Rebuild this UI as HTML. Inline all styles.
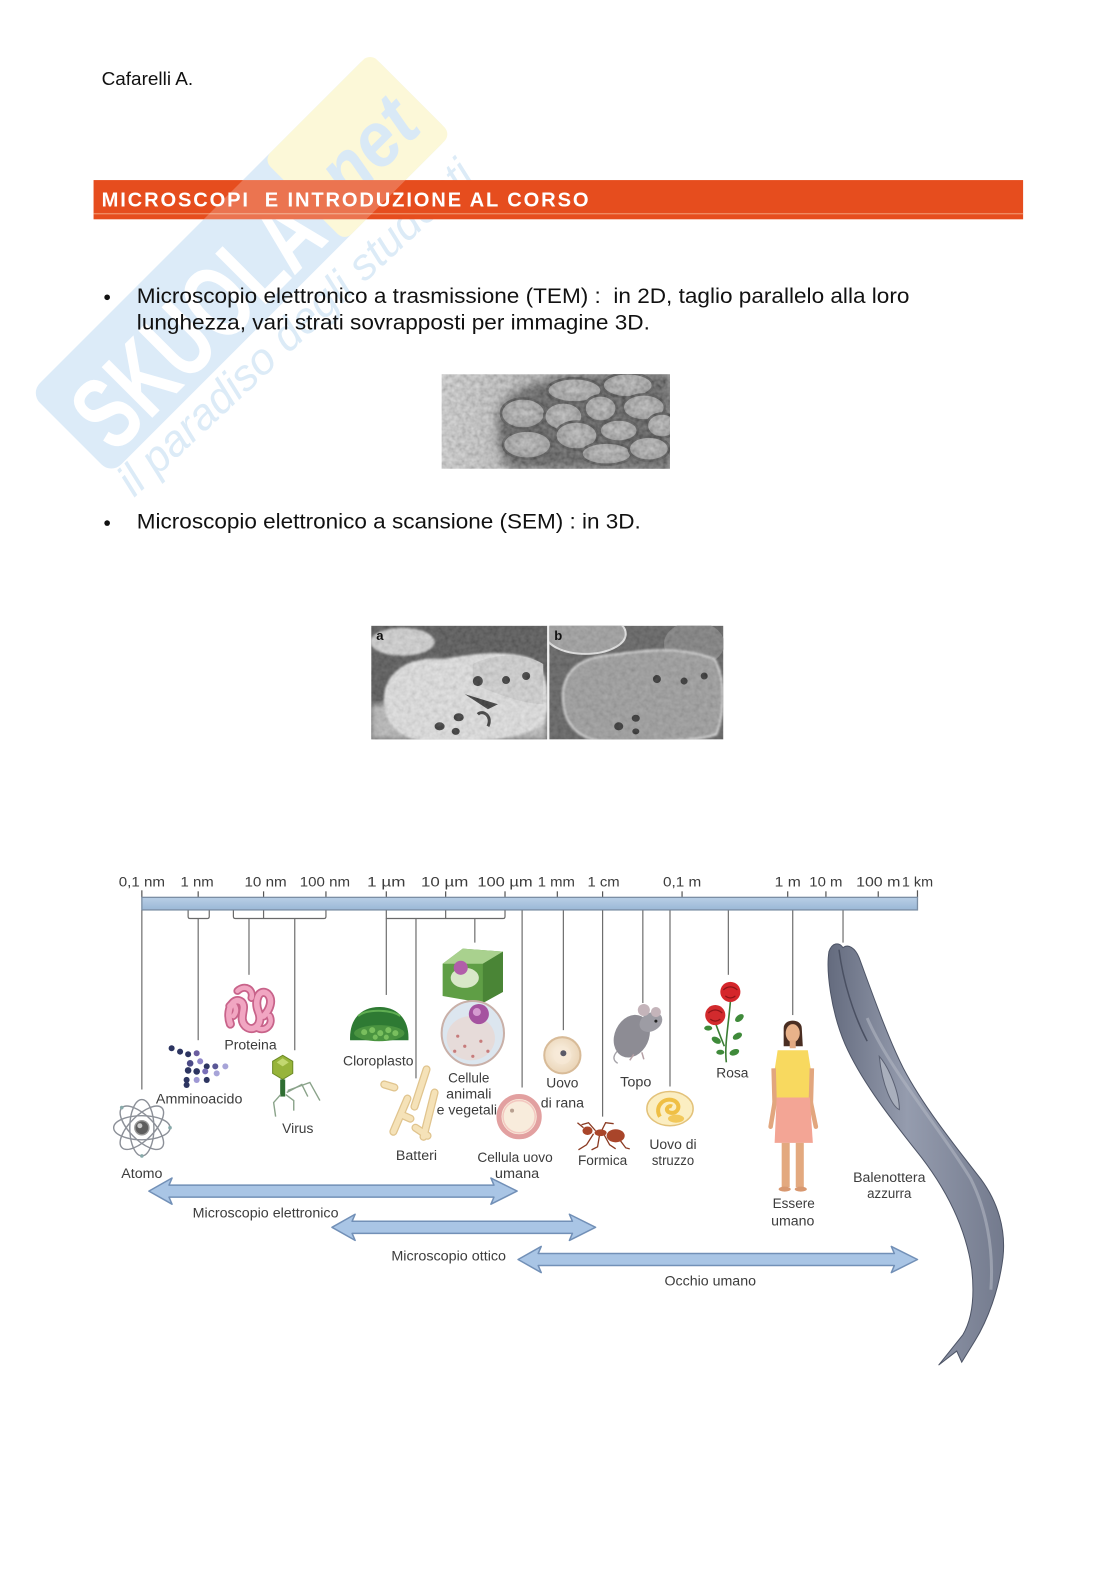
<!DOCTYPE html>
<html><head><meta charset="utf-8">
<style>
html,body{margin:0;padding:0;background:#fff;}
svg{display:block;}
text{font-family:"Liberation Sans",Arial,sans-serif;}
.lb{font-size:14px;fill:#3c3c3c;}
</style></head>
<body>
<svg width="1116" height="1578" viewBox="0 0 1116 1578" xmlns="http://www.w3.org/2000/svg">
<defs>
  <filter id="grain" x="0" y="0" width="100%" height="100%">
    <feTurbulence type="fractalNoise" baseFrequency="0.22" numOctaves="2" seed="4"/>
    <feColorMatrix type="saturate" values="0"/>
    <feComponentTransfer><feFuncA type="linear" slope="0" intercept="0.45"/></feComponentTransfer>
  </filter>
  <filter id="b1"><feGaussianBlur stdDeviation="1"/></filter>
  <filter id="b3"><feGaussianBlur stdDeviation="3"/></filter>
  <filter id="b5"><feGaussianBlur stdDeviation="5"/></filter>
  <linearGradient id="temg" x1="0" y1="0" x2="1" y2="0">
    <stop offset="0" stop-color="#d0d0d0"/><stop offset="0.35" stop-color="#b2b2b2"/><stop offset="1" stop-color="#7e7e7e"/>
  </linearGradient>
  <radialGradient id="oval" cx="0.5" cy="0.45" r="0.6">
    <stop offset="0" stop-color="#b4b4b4"/><stop offset="0.75" stop-color="#8e8e8e"/><stop offset="1" stop-color="#505050"/>
  </radialGradient>
  <linearGradient id="whaleg" x1="0" y1="0" x2="1" y2="0">
    <stop offset="0" stop-color="#646b7e"/><stop offset="0.45" stop-color="#959cae"/><stop offset="1" stop-color="#737a8d"/>
  </linearGradient>
  <linearGradient id="barg" x1="0" y1="0" x2="0" y2="1">
    <stop offset="0" stop-color="#b9cfe6"/><stop offset="1" stop-color="#9ab7d6"/>
  </linearGradient>
  <radialGradient id="egg" cx="0.45" cy="0.45" r="0.6">
    <stop offset="0" stop-color="#fbf3e6"/><stop offset="1" stop-color="#e9d2b3"/>
  </radialGradient>
  <clipPath id="temc"><rect x="439" y="372" width="227" height="94"/></clipPath>
  <clipPath id="semA"><rect x="369" y="622" width="175" height="113"/></clipPath>
  <clipPath id="semB"><rect x="546" y="622" width="173" height="113"/></clipPath>
  <clipPath id="barclip"><rect x="93.5" y="180" width="930" height="39.5"/></clipPath>
</defs>
<rect width="1116" height="1578" fill="#fff"/>

<!-- watermark -->
<g transform="translate(30,393) rotate(-45)">
  <rect x="0" y="0" width="481" height="115" rx="14" fill="#dcebf8"/>
  <rect x="330" y="0" width="151" height="115" rx="10" fill="#fcf8d8"/>
  <text x="16" y="104" font-size="104" font-weight="bold" fill="#ffffff" textLength="305" lengthAdjust="spacingAndGlyphs">SKUOLA</text>
  <text x="340" y="92" font-size="78" font-weight="bold" font-style="italic" fill="#d9e9f6" textLength="125" lengthAdjust="spacingAndGlyphs">.net</text>
</g>
<g transform="translate(134,498) rotate(-43)">
  <text x="0" y="0" font-family="Liberation Serif" font-style="italic" font-size="44" fill="#dcebf7" textLength="468" lengthAdjust="spacingAndGlyphs">il paradiso degli studenti</text>
</g>

<g transform="scale(1.006)">
<!-- header -->
<text x="101" y="84.5" font-size="18" fill="#111" textLength="91" lengthAdjust="spacingAndGlyphs">Cafarelli A.</text>
<rect x="93" y="179" width="924" height="39" fill="#e64d1e"/>
<rect x="93" y="212" width="924" height="1" fill="#f3a27a"/>
</g>
<!-- watermark overlay on bar -->
<g clip-path="url(#barclip)" opacity="0.22">
  <g transform="translate(30,393) rotate(-45)">
    <rect x="0" y="0" width="481" height="115" rx="14" fill="#ffffff"/>
  </g>
</g>
<g transform="scale(1.006)">
<text x="101" y="205.5" font-size="20" font-weight="bold" fill="#fff" textLength="484" lengthAdjust="spacing">MICROSCOPI&#160; E INTRODUZIONE AL CORSO</text>

<!-- bullets -->
<circle cx="106.5" cy="295.5" r="2.8" fill="#111"/>
<text x="136" y="301" font-size="21" fill="#111" textLength="768" lengthAdjust="spacingAndGlyphs">Microscopio elettronico a trasmissione (TEM) :&#160; in 2D, taglio parallelo alla loro</text>
<text x="136" y="327.5" font-size="21" fill="#111" textLength="510" lengthAdjust="spacingAndGlyphs">lunghezza, vari strati sovrapposti per immagine 3D.</text>
<circle cx="106.5" cy="520" r="2.8" fill="#111"/>
<text x="136" y="525.5" font-size="21" fill="#111" textLength="501" lengthAdjust="spacingAndGlyphs">Microscopio elettronico a scansione (SEM) : in 3D.</text>

<!-- TEM image -->
<g clip-path="url(#temc)">
  <rect x="439" y="372" width="227" height="94" fill="url(#temg)"/>
  <path d="M500,400 C520,380 560,372 600,372 L666,372 L666,466 L505,466 C495,450 490,420 500,400 Z" fill="#2e2e2e" filter="url(#b5)"/>
  <g stroke="#1e1e1e" stroke-width="2.5" fill="url(#oval)">
    <ellipse cx="571" cy="388" rx="27" ry="12"/>
    <ellipse cx="624" cy="383" rx="25" ry="12"/>
    <ellipse cx="520" cy="411" rx="22" ry="15"/>
    <ellipse cx="560" cy="414" rx="19" ry="14"/>
    <ellipse cx="597" cy="406" rx="16" ry="13"/>
    <ellipse cx="640" cy="405" rx="21" ry="13"/>
    <ellipse cx="524" cy="442" rx="24" ry="14"/>
    <ellipse cx="573" cy="433" rx="21" ry="14"/>
    <ellipse cx="615" cy="428" rx="19" ry="11"/>
    <ellipse cx="658" cy="423" rx="15" ry="12"/>
    <ellipse cx="603" cy="451" rx="25" ry="11"/>
    <ellipse cx="645" cy="446" rx="20" ry="12"/>
  </g>
  <rect x="439" y="372" width="227" height="94" filter="url(#grain)"/>
</g>

<!-- SEM image -->
<g clip-path="url(#semA)">
  <rect x="369" y="622" width="175" height="113" fill="#444"/>
  <ellipse cx="400" cy="638" rx="32" ry="14" fill="#cfcfcf" filter="url(#b1)"/>
  <rect x="369" y="700" width="175" height="35" fill="#b5b5b5" filter="url(#b3)"/>
  <path d="M382,690 C385,665 410,652 440,655 C470,650 500,645 530,655 C545,665 548,700 540,720 C520,735 470,738 430,737 C400,737 378,720 382,690 Z" fill="#e2e2e2" filter="url(#b1)"/>
  <path d="M470,660 C490,650 520,648 540,660 L540,700 C520,700 495,690 470,680 Z" fill="#cfcfcf"/>
  <g fill="#222">
    <ellipse cx="437" cy="722" rx="5" ry="4"/><ellipse cx="456" cy="713" rx="5" ry="4"/><ellipse cx="453" cy="727" rx="4" ry="3.5"/>
    <ellipse cx="475" cy="677" rx="5" ry="5"/><ellipse cx="503" cy="676" rx="4" ry="4"/><ellipse cx="523" cy="672" rx="4" ry="4"/>
    <path d="M462,690 L495,700 L485,705 Z"/><path d="M475,710 C480,705 490,712 485,722" stroke="#222" stroke-width="3" fill="none"/>
  </g>
  <rect x="369" y="622" width="175" height="113" filter="url(#grain)" opacity="0.6"/>
  <text x="374" y="636" font-size="13" font-weight="bold" fill="#111">a</text>
</g>
<rect x="544" y="622" width="2" height="113" fill="#f0f0f0"/>
<g clip-path="url(#semB)">
  <rect x="546" y="622" width="173" height="113" fill="#555"/>
  <ellipse cx="582" cy="630" rx="40" ry="20" fill="#9a9a9a" stroke="#e6e6e6" stroke-width="2"/>
  <ellipse cx="690" cy="640" rx="30" ry="22" fill="#777"/>
  <path d="M560,700 C556,670 575,655 600,652 C630,648 670,640 710,655 C722,675 720,710 712,730 C690,738 640,738 600,737 C575,735 562,720 560,700 Z" fill="#979797" stroke="#d8d8d8" stroke-width="2" filter="url(#b1)"/>
  <g fill="#222">
    <ellipse cx="615" cy="722" rx="4.5" ry="4"/><ellipse cx="632" cy="714" rx="4" ry="3.5"/><ellipse cx="632" cy="727" rx="3.5" ry="3"/>
    <ellipse cx="653" cy="675" rx="4" ry="4"/><ellipse cx="680" cy="677" rx="3.5" ry="3.5"/><ellipse cx="700" cy="672" rx="3.5" ry="3.5"/>
  </g>
  <rect x="546" y="622" width="173" height="113" filter="url(#grain)" opacity="0.5"/>
  <text x="551" y="636" font-size="13" font-weight="bold" fill="#111">b</text>
</g>

<!-- ===== scale diagram ===== -->
<g class="lb">
  <text x="141" y="881" text-anchor="middle" textLength="46" lengthAdjust="spacingAndGlyphs">0,1 nm</text>
  <text x="196" y="881" text-anchor="middle" textLength="33" lengthAdjust="spacingAndGlyphs">1 nm</text>
  <text x="264" y="881" text-anchor="middle" textLength="42" lengthAdjust="spacingAndGlyphs">10 nm</text>
  <text x="323" y="881" text-anchor="middle" textLength="50" lengthAdjust="spacingAndGlyphs">100 nm</text>
  <text x="384" y="881" text-anchor="middle" textLength="38" lengthAdjust="spacingAndGlyphs">1 µm</text>
  <text x="442" y="881" text-anchor="middle" textLength="47" lengthAdjust="spacingAndGlyphs">10 µm</text>
  <text x="502" y="881" text-anchor="middle" textLength="55" lengthAdjust="spacingAndGlyphs">100 µm</text>
  <text x="553" y="881" text-anchor="middle" textLength="37" lengthAdjust="spacingAndGlyphs">1 mm</text>
  <text x="600" y="881" text-anchor="middle" textLength="32" lengthAdjust="spacingAndGlyphs">1 cm</text>
  <text x="678" y="881" text-anchor="middle" textLength="38" lengthAdjust="spacingAndGlyphs">0,1 m</text>
  <text x="783" y="881" text-anchor="middle" textLength="26" lengthAdjust="spacingAndGlyphs">1 m</text>
  <text x="821" y="881" text-anchor="middle" textLength="33" lengthAdjust="spacingAndGlyphs">10 m</text>
  <text x="873" y="881" text-anchor="middle" textLength="44" lengthAdjust="spacingAndGlyphs">100 m</text>
  <text x="912" y="881" text-anchor="middle" textLength="31" lengthAdjust="spacingAndGlyphs">1 km</text>
</g>
<!-- ticks -->
<g stroke="#555" stroke-width="1.2">
  <line x1="141" y1="885" x2="141" y2="892"/><line x1="197" y1="886" x2="197" y2="892"/><line x1="262" y1="886" x2="262" y2="892"/>
  <line x1="324" y1="886" x2="324" y2="892"/><line x1="384" y1="886" x2="384" y2="892"/><line x1="443" y1="886" x2="443" y2="892"/>
  <line x1="502" y1="886" x2="502" y2="892"/><line x1="554" y1="886" x2="554" y2="892"/><line x1="599" y1="886" x2="599" y2="892"/>
  <line x1="678" y1="886" x2="678" y2="892"/><line x1="783" y1="886" x2="783" y2="892"/><line x1="821" y1="886" x2="821" y2="892"/>
  <line x1="873" y1="886" x2="873" y2="892"/><line x1="912" y1="885" x2="912" y2="892"/>
</g>
<rect x="141" y="892" width="771" height="12.5" fill="url(#barg)" stroke="#7b8ea4" stroke-width="1.3"/>
<!-- brackets -->
<g stroke="#6a6a6a" stroke-width="1.2" fill="none">
  <path d="M187,905 V911 Q187,913 189,913 H206 Q208,913 208,911 V905"/>
  <path d="M232,905 V911 Q232,913 234,913 H322 Q324,913 324,911 V905"/>
  <line x1="262" y1="905" x2="262" y2="913"/>
  <path d="M384,905 V913 H500 Q502,913 502,911 V905"/>
  <line x1="443" y1="905" x2="443" y2="913"/>
</g>
<!-- connector lines -->
<g stroke="#6e6e6e" stroke-width="1.2">
  <line x1="141" y1="905" x2="141" y2="1083"/>
  <line x1="197" y1="913" x2="197" y2="1034"/>
  <line x1="247.5" y1="913" x2="247.5" y2="969"/>
  <line x1="293" y1="913" x2="293" y2="1044"/>
  <line x1="384" y1="913" x2="384" y2="989"/>
  <line x1="413.5" y1="913" x2="413.5" y2="1072"/>
  <line x1="472" y1="913" x2="472" y2="937"/>
  <line x1="519" y1="905" x2="519" y2="1081"/>
  <line x1="560" y1="905" x2="560" y2="1024"/>
  <line x1="599" y1="905" x2="599" y2="1110"/>
  <line x1="639" y1="905" x2="639" y2="997"/>
  <line x1="666" y1="905" x2="666" y2="1080"/>
  <line x1="724" y1="905" x2="724" y2="969"/>
  <line x1="788" y1="905" x2="788" y2="1009"/>
  <line x1="838" y1="905" x2="838" y2="937"/>
</g>

<!-- Atom -->
<g transform="translate(141,1121)" fill="none" stroke="#8c9098" stroke-width="1.4">
  <ellipse rx="28" ry="12"/>
  <ellipse rx="28" ry="12" transform="rotate(45)"/>
  <ellipse rx="28" ry="12" transform="rotate(90)"/>
  <ellipse rx="28" ry="12" transform="rotate(135)"/>
  <circle r="7" fill="#5e5e5e" stroke="#999"/>
  <circle r="2.5" cx="-2" cy="-2" fill="#ccc" stroke="none"/>
  <circle cx="28" cy="0" r="1.8" fill="#8aa" stroke="none"/><circle cx="-20" cy="-20" r="1.8" fill="#8aa" stroke="none"/><circle cx="0" cy="28" r="1.8" fill="#8aa" stroke="none"/>
</g>
<!-- Amminoacido -->
<g>
  <circle cx="170.6" cy="1042" r="3" fill="#2d3561"/><circle cx="179" cy="1045.4" r="3" fill="#2d3561"/>
  <circle cx="187" cy="1048" r="3" fill="#2d3561"/><circle cx="195.5" cy="1047" r="3" fill="#6b5ea0"/>
  <circle cx="189" cy="1057" r="3.3" fill="#4b4a86"/><circle cx="199" cy="1055" r="3" fill="#8f86c8"/>
  <circle cx="205.5" cy="1060" r="3" fill="#2d3561"/><circle cx="187" cy="1064" r="3.3" fill="#2d3561"/>
  <circle cx="195.5" cy="1065" r="3.3" fill="#2d3561"/><circle cx="204" cy="1065" r="3" fill="#7a70b8"/>
  <circle cx="214" cy="1060" r="3" fill="#5a5796"/><circle cx="224" cy="1060" r="3" fill="#a7a4d8"/>
  <circle cx="185.5" cy="1073.5" r="3" fill="#2d3561"/><circle cx="195.5" cy="1073.5" r="3" fill="#9e98d4"/>
  <circle cx="205.5" cy="1073.5" r="3" fill="#2d3561"/><circle cx="215.4" cy="1067" r="3" fill="#a7a4d8"/>
  <circle cx="185.5" cy="1078.5" r="3" fill="#2d3561"/>
</g>
<!-- Proteina -->
<g fill="none" stroke-linecap="round" stroke-linejoin="round">
  <path d="M229,1018 C224,1004 232,990 240,996 C246,1002 236,1012 244,1020 C252,1027 262,1018 257,1006 C252,994 258,982 266,988 C272,994 268,1004 262,1010" stroke="#c8638a" stroke-width="9"/>
  <path d="M236,985 C244,978 252,984 250,992 M256,1022 C264,1026 272,1018 268,1010 M228,1000 C232,994 238,1004 232,1010" stroke="#c8638a" stroke-width="8"/>
  <path d="M229,1018 C224,1004 232,990 240,996 C246,1002 236,1012 244,1020 C252,1027 262,1018 257,1006 C252,994 258,982 266,988 C272,994 268,1004 262,1010" stroke="#f1a6c2" stroke-width="5.5"/>
  <path d="M236,985 C244,978 252,984 250,992 M256,1022 C264,1026 272,1018 268,1010 M228,1000 C232,994 238,1004 232,1010" stroke="#f1a6c2" stroke-width="4.5"/>
</g>
<!-- Virus -->
<g>
  <polygon points="281,1049 291,1055 291,1067 281,1073 271,1067 271,1055" fill="#97b43a" stroke="#6b8a25" stroke-width="1"/>
  <polygon points="281,1052 287,1056 281,1060 275,1056" fill="#c2d870"/>
  <rect x="278.5" y="1073" width="5" height="17" fill="#2f6e32"/>
  <g stroke="#8aa38a" stroke-width="1.4" fill="none">
    <polyline points="279,1088 272,1096 274,1110"/>
    <polyline points="284,1088 292,1094 292,1104"/>
    <polyline points="285,1086 300,1078 306,1090"/>
    <polyline points="286,1084 308,1076 318,1094"/>
  </g>
</g>
<!-- Cloroplasto -->
<g>
  <path d="M348,1034 C347,1012 360,1001 377,1001 C394,1001 407,1012 406,1034 Z" fill="#2e7a33"/>
  <ellipse cx="377" cy="1027" rx="25" ry="8" fill="#4a9440"/>
  <g fill="#79bf5e"><circle cx="362" cy="1026" r="3"/><circle cx="370" cy="1024" r="3"/><circle cx="378" cy="1027" r="3"/><circle cx="386" cy="1024" r="3"/><circle cx="393" cy="1027" r="3"/><circle cx="373" cy="1031" r="2.5"/><circle cx="384" cy="1031" r="2.5"/></g>
  <path d="M356,1010 C364,1003 388,1003 398,1010" stroke="#5fae52" stroke-width="2" fill="none"/>
</g>
<!-- Cells -->
<g>
  <path d="M440,958 L460,943 L500,946 L500,986 L480,997 L440,990 Z" fill="#5f9e45"/>
  <path d="M440,958 L460,943 L500,946 L480,958 Z" fill="#a9d18e"/>
  <path d="M480,958 L500,946 L500,986 L480,997 Z" fill="#4a8536"/>
  <ellipse cx="462" cy="972" rx="14" ry="10" fill="#d8e8c8"/>
  <circle cx="458" cy="962" r="7" fill="#b15ea9"/>
  <ellipse cx="470" cy="1027" rx="31" ry="32" fill="#dce6ef" stroke="#c9b0a8" stroke-width="2"/>
  <ellipse cx="468" cy="1032" rx="24" ry="22" fill="#e9d5d0" opacity="0.7"/>
  <circle cx="476" cy="1008" r="10" fill="#a553a0"/><circle cx="474" cy="1006" r="4" fill="#d59bd0"/>
  <g fill="#c77b7b"><circle cx="455" cy="1030" r="1.6"/><circle cx="462" cy="1040" r="1.6"/><circle cx="478" cy="1035" r="1.6"/><circle cx="485" cy="1045" r="1.6"/><circle cx="452" cy="1045" r="1.6"/><circle cx="470" cy="1050" r="1.6"/></g>
</g>
<!-- Batteri -->
<g stroke-linecap="round" fill="none">
  <g stroke="#e0c48e" stroke-width="8">
    <line x1="424" y1="1063" x2="412" y2="1100"/><line x1="432" y1="1086" x2="421" y2="1130"/>
    <line x1="405" y1="1092" x2="391" y2="1125"/><line x1="382" y1="1078" x2="392" y2="1081"/>
    <line x1="399" y1="1108" x2="408" y2="1112"/><line x1="413" y1="1121" x2="425" y2="1129"/>
  </g>
  <g stroke="#f5e2b8" stroke-width="5.5">
    <line x1="424" y1="1063" x2="412" y2="1100"/><line x1="432" y1="1086" x2="421" y2="1130"/>
    <line x1="405" y1="1092" x2="391" y2="1125"/><line x1="382" y1="1078" x2="392" y2="1081"/>
    <line x1="399" y1="1108" x2="408" y2="1112"/><line x1="413" y1="1121" x2="425" y2="1129"/>
  </g>
</g>
<!-- Cellula uovo umana -->
<g>
  <circle cx="516" cy="1110" r="20" fill="#f8ecdc" stroke="#e2a0a0" stroke-width="5"/>
  <circle cx="516" cy="1110" r="16" fill="none" stroke="#f3c8c0" stroke-width="1.5"/>
  <circle cx="509" cy="1104" r="2" fill="#b8a090"/>
</g>
<!-- Uovo di rana -->
<g>
  <circle cx="559" cy="1049" r="18" fill="url(#egg)" stroke="#d8bb98" stroke-width="2"/>
  <circle cx="559" cy="1049" r="9" fill="#f6e8d6" opacity="0.7"/>
  <circle cx="560" cy="1047" r="3" fill="#5a5a68"/>
</g>
<!-- Formica -->
<g fill="#a9452a">
  <g stroke="#8a3a22" stroke-width="1.3" fill="none">
    <polyline points="590,1127 583,1138 575,1143"/><polyline points="596,1128 594,1140 588,1143"/><polyline points="600,1127 606,1138 612,1142"/>
    <polyline points="592,1124 585,1116 578,1118"/><polyline points="598,1124 602,1116 610,1117"/><polyline points="580,1121 574,1116"/>
    <polyline points="616,1133 622,1141 626,1142"/>
  </g>
  <ellipse cx="612" cy="1129" rx="9" ry="6.5"/>
  <ellipse cx="597" cy="1126" rx="6" ry="3.3"/>
  <ellipse cx="584" cy="1124" rx="5" ry="4.2"/>
</g>
<!-- Topo -->
<g>
  <path d="M620,1038 C612,1046 606,1052 614,1057" stroke="#a4a2a8" stroke-width="1.3" fill="none"/>
  <ellipse cx="628" cy="1030" rx="17" ry="22" transform="rotate(25 628 1030)" fill="#8d8c94"/>
  <ellipse cx="647" cy="1016" rx="12" ry="9" transform="rotate(-30 647 1016)" fill="#9d9ca4"/>
  <circle cx="640" cy="1004" r="6" fill="#c4b4ba"/><circle cx="652" cy="1006" r="5" fill="#c4b4ba"/>
  <circle cx="652" cy="1015" r="1.5" fill="#222"/>
  <path d="M630,1048 l-4,6 M638,1046 l2,7" stroke="#b5a0a5" stroke-width="1.5"/>
</g>
<!-- Uovo di struzzo -->
<g>
  <ellipse cx="666" cy="1102" rx="23" ry="17" fill="#fbeec2" stroke="#e3c27a" stroke-width="1.5"/>
  <path d="M656,1110 C650,1100 660,1090 670,1094 C678,1098 674,1108 666,1106 C660,1104 664,1098 668,1100" stroke="#efbf45" stroke-width="4" fill="none"/>
  <ellipse cx="672" cy="1112" rx="8" ry="4" fill="#f2c85a"/>
</g>
<!-- Rosa -->
<g>
  <g stroke="#3b7d34" stroke-width="1.6" fill="none">
    <path d="M722,1056 C720,1040 724,1020 726,996"/><path d="M720,1040 C716,1030 712,1020 711,1016"/>
  </g>
  <g fill="#3f8a3a">
    <ellipse cx="733" cy="1030" rx="5" ry="3" transform="rotate(-30 733 1030)"/><ellipse cx="712" cy="1034" rx="5" ry="3" transform="rotate(30 712 1034)"/>
    <ellipse cx="735" cy="1012" rx="5" ry="3" transform="rotate(-40 735 1012)"/><ellipse cx="716" cy="1046" rx="4" ry="2.5"/>
    <ellipse cx="730" cy="1046" rx="5" ry="3" transform="rotate(-20 730 1046)"/><ellipse cx="704" cy="1022" rx="4" ry="2.5"/>
  </g>
  <circle cx="726" cy="986" r="10" fill="#d5262b"/><path d="M719,984 q7,-6 14,0 M721,990 q5,4 10,0" stroke="#8e1418" stroke-width="1.2" fill="none"/>
  <circle cx="711" cy="1009" r="10" fill="#d22a2d"/><path d="M704,1007 q7,-6 14,0 M706,1013 q5,4 10,0" stroke="#8e1418" stroke-width="1.2" fill="none"/>
</g>
<!-- Essere umano -->
<g>
  <path d="M779,1022 C779,1012 797,1012 797,1022 L798,1040 L779,1040 Z" fill="#4a2e22"/>
  <ellipse cx="788" cy="1027" rx="7" ry="9" fill="#e8b28a"/>
  <rect x="785" y="1034" width="6" height="8" fill="#e3a982"/>
  <path d="M770,1096 L766,1120" stroke="#e2a67e" stroke-width="4.5" stroke-linecap="round"/>
  <path d="M806,1096 L811,1120" stroke="#e2a67e" stroke-width="4.5" stroke-linecap="round"/>
  <path d="M773,1044 L803,1044 L807,1070 L804,1094 L772,1094 L769,1070 Z" fill="#f8d95f"/>
  <path d="M769,1062 L770,1098 M807,1062 L806,1098" stroke="#e2a67e" stroke-width="4.5"/>
  <path d="M772,1091 L805,1091 L808,1136 L770,1136 Z" fill="#f3a595"/>
  <rect x="777" y="1136" width="8" height="44" fill="#e3a97f"/>
  <rect x="791" y="1136" width="8" height="44" fill="#e3a97f"/>
  <ellipse cx="780" cy="1182" rx="6" ry="2.5" fill="#d89870"/><ellipse cx="796" cy="1182" rx="6" ry="2.5" fill="#d89870"/>
</g>
<!-- Balenottera -->
<g>
  <path d="M824,946 C821,965 826,1005 840,1038 C855,1072 880,1105 910,1143 C940,1180 960,1220 966,1262 C969,1290 966,1312 957,1327 L933,1357 L951,1343 L956,1354 L969,1333 C982,1312 993,1282 997,1250 C1000,1222 992,1195 975,1172 C950,1140 918,1100 898,1062 C882,1030 868,990 854,952 C850,942 843,938 838,942 C834,936 827,937 824,946 Z" fill="url(#whaleg)" stroke="#4d5466" stroke-width="1"/>
  <path d="M834,944 C838,975 848,1008 862,1035" stroke="#4a5062" stroke-width="1.5" fill="none"/>
  <path d="M874,1050 C883,1060 894,1085 894,1103 C887,1100 877,1080 874,1050 Z" fill="#a9afbc" stroke="#5c6274" stroke-width="1"/>
  <path d="M862,1012 C885,1065 935,1122 965,1172 C980,1202 988,1240 985,1282" stroke="#b0b6c2" stroke-width="3" fill="none" opacity="0.6"/>
</g>

<!-- Labels -->
<g class="lb">
  <text x="249" y="1043" text-anchor="middle" textLength="52" lengthAdjust="spacingAndGlyphs">Proteina</text>
  <text x="198" y="1097" text-anchor="middle" textLength="86" lengthAdjust="spacingAndGlyphs">Amminoacido</text>
  <text x="296" y="1126" text-anchor="middle" textLength="31" lengthAdjust="spacingAndGlyphs">Virus</text>
  <text x="376" y="1059" text-anchor="middle" textLength="70" lengthAdjust="spacingAndGlyphs">Cloroplasto</text>
  <text x="466" y="1076" text-anchor="middle" textLength="41" lengthAdjust="spacingAndGlyphs">Cellule</text>
  <text x="466" y="1092" text-anchor="middle" textLength="45" lengthAdjust="spacingAndGlyphs">animali</text>
  <text x="464" y="1108" text-anchor="middle" textLength="60" lengthAdjust="spacingAndGlyphs">e vegetali</text>
  <text x="414" y="1153" text-anchor="middle" textLength="41" lengthAdjust="spacingAndGlyphs">Batteri</text>
  <text x="141" y="1171" text-anchor="middle" textLength="41" lengthAdjust="spacingAndGlyphs">Atomo</text>
  <text x="512" y="1155" text-anchor="middle" textLength="75" lengthAdjust="spacingAndGlyphs">Cellula uovo</text>
  <text x="514" y="1171" text-anchor="middle" textLength="44" lengthAdjust="spacingAndGlyphs">umana</text>
  <text x="559" y="1081" text-anchor="middle" textLength="32" lengthAdjust="spacingAndGlyphs">Uovo</text>
  <text x="559" y="1101" text-anchor="middle" textLength="43" lengthAdjust="spacingAndGlyphs">di rana</text>
  <text x="632" y="1080" text-anchor="middle" textLength="31" lengthAdjust="spacingAndGlyphs">Topo</text>
  <text x="599" y="1158" text-anchor="middle" textLength="49" lengthAdjust="spacingAndGlyphs">Formica</text>
  <text x="669" y="1142" text-anchor="middle" textLength="47" lengthAdjust="spacingAndGlyphs">Uovo di</text>
  <text x="669" y="1158" text-anchor="middle" textLength="42" lengthAdjust="spacingAndGlyphs">struzzo</text>
  <text x="728" y="1071" text-anchor="middle" textLength="32" lengthAdjust="spacingAndGlyphs">Rosa</text>
  <text x="789" y="1201" text-anchor="middle" textLength="42" lengthAdjust="spacingAndGlyphs">Essere</text>
  <text x="788" y="1218" text-anchor="middle" textLength="43" lengthAdjust="spacingAndGlyphs">umano</text>
  <text x="884" y="1175" text-anchor="middle" textLength="72" lengthAdjust="spacingAndGlyphs">Balenottera</text>
  <text x="884" y="1191" text-anchor="middle" textLength="44" lengthAdjust="spacingAndGlyphs">azzurra</text>
  <text x="264" y="1210" text-anchor="middle" textLength="145" lengthAdjust="spacingAndGlyphs">Microscopio elettronico</text>
  <text x="446" y="1253" text-anchor="middle" textLength="114" lengthAdjust="spacingAndGlyphs">Microscopio ottico</text>
  <text x="706" y="1278" text-anchor="middle" textLength="91" lengthAdjust="spacingAndGlyphs">Occhio umano</text>
</g>

<!-- Arrows -->
<g fill="#a9c5e5" stroke="#7290b7" stroke-width="1.5" stroke-linejoin="round">
  <polygon points="148,1184 171,1171 168,1178 491,1178 488,1171 514,1184 488,1197 491,1190 168,1190 171,1197"/>
  <polygon points="330,1220 353,1207 350,1214 569,1214 566,1207 592,1220 566,1233 569,1226 350,1226 353,1233"/>
  <polygon points="515,1252 538,1239 535,1246 889,1246 886,1239 912,1252 886,1265 889,1258 535,1258 538,1265"/>
</g>
</g>
</svg>
</body></html>
